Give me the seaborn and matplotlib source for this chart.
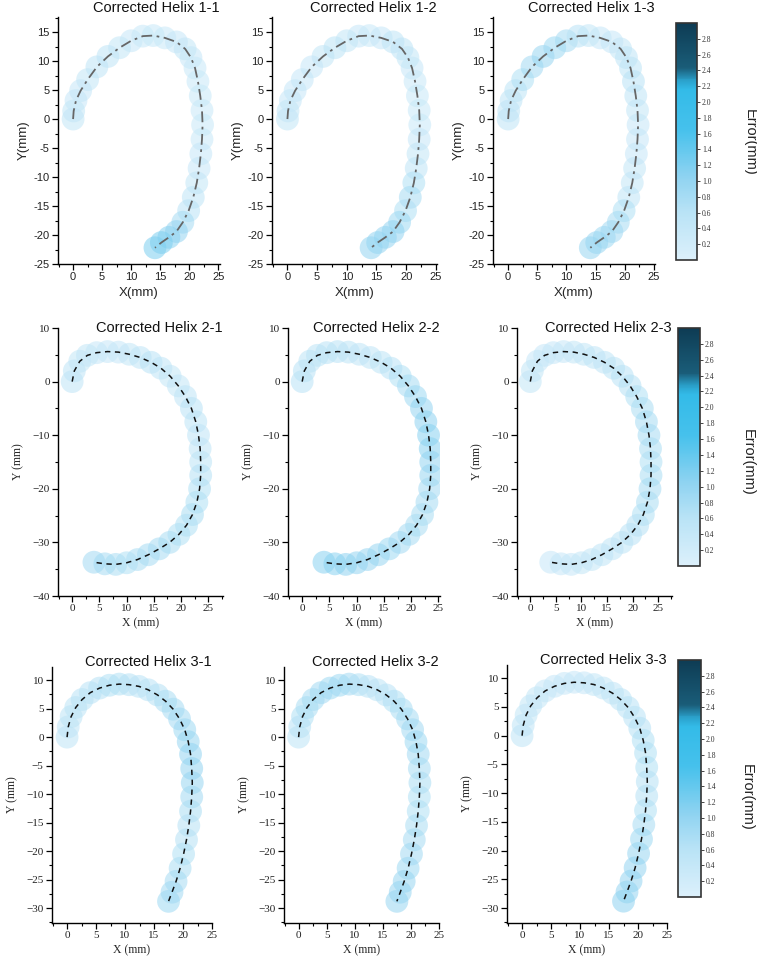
import numpy as np
import pandas as pd
import matplotlib
matplotlib.use("Agg")
import matplotlib.pyplot as plt
import seaborn as sns
from matplotlib.colors import LinearSegmentedColormap, Normalize
from matplotlib.ticker import MultipleLocator, FuncFormatter
from matplotlib.cm import ScalarMappable

sns.set_theme(style="white")
plt.rcParams['font.family'] = ['Liberation Sans', 'DejaVu Sans']

# ---------------- data ----------------
# centerlines (mm)
helix1_x = [0, 0.1, 0.5, 1.3, 2.5, 4.1, 6.0, 8.0, 10.0, 12.0, 13.8, 15.8, 17.8, 19.3, 20.3, 21.0,
            21.5, 21.9, 22.2, 22.3, 22.2, 22.0, 21.7, 21.3, 20.7, 19.9, 18.9, 17.8, 16.5, 15.2, 14.1]
helix1_y = [0, 1.4, 3.2, 4.9, 6.8, 9.0, 10.8, 12.3, 13.5, 14.3, 14.4, 14.0, 13.3, 12.1, 10.6, 8.8,
            6.5, 4.0, 1.5, -1.0, -3.5, -6.0, -8.5, -11.0, -13.5, -15.8, -17.8, -19.4, -20.4, -21.3, -22.2]

helix2_x = [0, 0.4, 1.4, 2.8, 4.5, 6.5, 8.5, 10.5, 12.5, 14.5, 16.3, 18.0, 19.5, 20.8, 21.9, 22.7,
            23.2, 23.5, 23.6, 23.6, 23.4, 22.9, 22.1, 21.0, 19.6, 17.9, 16.0, 14.0, 12.0, 10.0, 8.0, 6.0, 4.0]
helix2_y = [0, 2.0, 3.8, 4.9, 5.4, 5.6, 5.5, 5.1, 4.5, 3.6, 2.5, 1.0, -0.8, -2.8, -5.0, -7.5,
            -10.0, -12.5, -15.0, -17.5, -20.0, -22.5, -24.8, -26.8, -28.5, -30.0, -31.2, -32.3, -33.2,
            -33.8, -34.1, -34.0, -33.7]

helix3_x = [0, 0.2, 0.7, 1.5, 2.6, 4.0, 5.6, 7.3, 9.0, 10.7, 12.4, 14.0, 15.6, 17.0, 18.3, 19.4,
            20.3, 20.9, 21.3, 21.5, 21.6, 21.5, 21.3, 21.0, 20.6, 20.1, 19.5, 18.8, 18.1, 17.5]
helix3_y = [0, 1.8, 3.6, 5.2, 6.6, 7.8, 8.6, 9.1, 9.3, 9.2, 8.9, 8.3, 7.4, 6.3, 4.9, 3.2,
            1.3, -0.8, -3.0, -5.5, -8.0, -10.5, -13.0, -15.5, -18.0, -20.5, -23.0, -25.3, -27.2, -28.8]

# errors (mm) per measurement point
err_1_1 = [0.45, 0.45, 0.4, 0.4, 0.45, 0.5, 0.5, 0.45, 0.4, 0.35, 0.35, 0.35, 0.4, 0.45, 0.4, 0.35,
           0.35, 0.35, 0.35, 0.35, 0.35, 0.4, 0.4, 0.45, 0.5, 0.6, 0.8, 1.0, 1.1, 1.2, 1.2]
err_1_2 = [0.45, 0.45, 0.4, 0.4, 0.4, 0.4, 0.45, 0.55, 0.45, 0.4, 0.35, 0.4, 0.5, 0.5, 0.45, 0.4,
           0.35, 0.35, 0.35, 0.35, 0.4, 0.45, 0.5, 0.7, 0.8, 0.7, 0.9, 1.0, 1.0, 1.0, 1.0]
err_1_3 = [0.5, 0.5, 0.5, 0.55, 0.7, 0.85, 0.95, 0.9, 0.8, 0.6, 0.45, 0.4, 0.4, 0.45, 0.5, 0.55,
           0.6, 0.5, 0.45, 0.4, 0.4, 0.4, 0.45, 0.45, 0.5, 0.7, 0.8, 0.85, 0.9, 0.95, 0.95]

err_2_1 = [0.5, 0.5, 0.45, 0.45, 0.4, 0.4, 0.4, 0.45, 0.5, 0.6, 0.5, 0.45, 0.45, 0.5, 0.6, 0.55,
           0.5, 0.5, 0.55, 0.65, 0.7, 0.7, 0.75, 0.7, 0.7, 0.75, 0.8, 0.8, 0.75, 0.7, 0.75, 0.8, 0.85]
err_2_2 = [0.6, 0.6, 0.55, 0.55, 0.6, 0.6, 0.55, 0.5, 0.5, 0.55, 0.6, 0.7, 0.8, 0.9, 1.0, 1.05,
           1.1, 1.1, 1.0, 0.95, 0.85, 0.8, 0.75, 0.75, 0.8, 0.85, 0.9, 0.95, 0.95, 1.0, 1.05, 1.1, 1.1]
err_2_3 = [0.45, 0.45, 0.4, 0.4, 0.4, 0.4, 0.45, 0.45, 0.5, 0.5, 0.55, 0.6, 0.65, 0.7, 0.75, 0.8,
           0.8, 0.75, 0.7, 0.75, 0.8, 0.75, 0.7, 0.65, 0.6, 0.55, 0.5, 0.5, 0.45, 0.45, 0.4, 0.4, 0.4]

err_3_1 = [0.5, 0.5, 0.55, 0.55, 0.6, 0.6, 0.65, 0.7, 0.7, 0.65, 0.6, 0.6, 0.65, 0.75, 0.8, 0.85,
           0.9, 0.95, 1.0, 1.0, 0.95, 0.85, 0.75, 0.65, 0.65, 0.7, 0.75, 0.8, 0.85, 0.9]
err_3_2 = [0.55, 0.6, 0.7, 0.75, 0.8, 0.85, 0.9, 0.9, 0.85, 0.7, 0.6, 0.55, 0.6, 0.7, 0.75, 0.8,
           0.85, 0.9, 0.85, 0.8, 0.75, 0.7, 0.7, 0.75, 0.8, 0.85, 0.9, 0.95, 0.95, 0.95]
err_3_3 = [0.5, 0.5, 0.45, 0.45, 0.45, 0.4, 0.4, 0.4, 0.4, 0.4, 0.45, 0.45, 0.5, 0.55, 0.6, 0.6,
           0.65, 0.7, 0.7, 0.7, 0.65, 0.65, 0.7, 0.8, 0.9, 0.95, 1.0, 1.0, 1.0, 1.05]

titles = [["Corrected Helix 1-1", "Corrected Helix 1-2", "Corrected Helix 1-3"],
          ["Corrected Helix 2-1", "Corrected Helix 2-2", "Corrected Helix 2-3"],
          ["Corrected Helix 3-1", "Corrected Helix 3-2", "Corrected Helix 3-3"]]
cbar_ticks = [0.2, 0.4, 0.6, 0.8, 1.0, 1.2, 1.4, 1.6, 1.8, 2.0, 2.2, 2.4, 2.6, 2.8]
cbar_label = "Error(mm)"

centerlines = [(helix1_x, helix1_y), (helix2_x, helix2_y), (helix3_x, helix3_y)]
errors = [[err_1_1, err_1_2, err_1_3], [err_2_1, err_2_2, err_2_3], [err_3_1, err_3_2, err_3_3]]

# ---------------- style ----------------
cmap = LinearSegmentedColormap.from_list(
    "err", [(0.0, "#dcf0fb"), (0.2, "#b9e3f6"), (0.35, "#8fd3f1"), (0.55, "#46c1ec"),
            (0.72, "#33bbe8"), (0.76, "#2a9fc9"), (0.81, "#1a5d79"), (1.0, "#0e3c54")])
norm = Normalize(0, 3)

W, H = 757, 963
fig = plt.figure(figsize=(W / 100, H / 100), dpi=100)

def px_axes(l, r, t, b):
    return fig.add_axes([l / W, 1 - b / H, (r - l) / W, (b - t) / H])

# pixel boxes [left, right, top, bottom]
boxes = [
    [(58, 220, 17, 264), (272, 437, 17, 264), (493, 655, 17, 264)],
    [(58, 223, 328, 596), (288, 440, 328, 596), (517, 672, 328, 596)],
    [(52, 212, 667, 923), (284, 439, 667, 923), (507, 667, 665, 923)],
]
xlims = [[(-2.6, 25.3), (-2.6, 25.2), (-2.6, 25.2)],
         [(-2.6, 27.7), (-2.6, 25.3), (-2.6, 27.7)],
         [(-2.6, 25.0), (-2.6, 25.0), (-2.6, 25.0)]]
ylims = [(-25, 17.6), (-40, 10), (-32.6, 12.3)]
ymaj = [5, 10, 5]
title_y = [1.036, 1.0, 1.02]
cbar_boxes = [(676, 697, 23, 260), (678, 700, 328, 566), (678, 701, 660, 897)]
cbar_label_pos = [(750, 142), (748, 462), (747, 797)]

serif = ['Liberation Serif', 'DejaVu Serif']
sans = ['Liberation Sans', 'DejaVu Sans']
hyphen_fmt = FuncFormatter(lambda v, p: f"{v:g}".replace("\u2212", "-"))

for r in range(3):
    cx, cy = centerlines[r]
    for c in range(3):
        ax = px_axes(*boxes[r][c])
        df = pd.DataFrame({"x": cx, "y": cy, "err": errors[r][c]})
        sns.scatterplot(data=df, x="x", y="y", hue="err", palette=cmap, hue_norm=norm,
                        s=270, alpha=0.55, linewidth=0, legend=False, ax=ax, zorder=2)
        if r == 0:
            sns.lineplot(data=df, x="x", y="y", sort=False, estimator=None, ax=ax,
                         color="#666666", lw=1.3, zorder=3)
            ax.lines[-1].set_dashes([6, 2.5, 1.5, 2.5])
        else:
            sns.lineplot(data=df, x="x", y="y", sort=False, estimator=None, ax=ax,
                         color="#111111", lw=1.1, zorder=3)
            ax.lines[-1].set_dashes([3.5, 3])
        ax.set_xlim(*xlims[r][c])
        ax.set_ylim(*ylims[r])
        ax.xaxis.set_major_locator(MultipleLocator(5))
        ax.xaxis.set_minor_locator(MultipleLocator(2.5))
        ax.yaxis.set_major_locator(MultipleLocator(ymaj[r]))
        ax.yaxis.set_minor_locator(MultipleLocator(ymaj[r] / 2))
        if r == 0:
            ax.xaxis.set_major_formatter(hyphen_fmt)
            ax.yaxis.set_major_formatter(hyphen_fmt)
        for s in ["top", "right"]:
            ax.spines[s].set_visible(False)
        for s in ["left", "bottom"]:
            ax.spines[s].set_color("black")
            ax.spines[s].set_linewidth(1.0)
        if r == 0:
            fam, tsize, lsize = 'Liberation Sans', 8, 9.5
        else:
            fam, tsize, lsize = 'Liberation Serif', 8, 8.5
        ax.tick_params(which="major", direction="out", length=4, width=0.9, color="black",
                       bottom=True, left=True, pad=2, labelsize=tsize, labelcolor="#222222",
                       labelfontfamily=fam)
        ax.tick_params(which="minor", direction="out", length=2, width=0.8, color="black",
                       bottom=True, left=True)
        if r == 0:
            ax.set_xlabel("X(mm)", fontsize=lsize, family=sans, labelpad=3)
            ax.set_ylabel("Y(mm)", fontsize=lsize, family=sans, labelpad=3)
        else:
            ax.set_xlabel("X (mm)", fontsize=lsize, family=serif, labelpad=3)
            ax.set_ylabel("Y (mm)", fontsize=lsize, family=serif, labelpad=6)
        ax.text(1.0, title_y[r], titles[r][c], transform=ax.transAxes, ha="right", va="center",
                fontsize=10.5, family=sans, color="#111111")
        ax.set_facecolor("white")

    # colorbar for the row
    l, rr, t, b = cbar_boxes[r]
    cax = px_axes(l, rr, t, b)
    sm = ScalarMappable(norm=norm, cmap=cmap)
    cb = fig.colorbar(sm, cax=cax, ticks=cbar_ticks)
    cb.outline.set_edgecolor("#333333")
    cb.outline.set_linewidth(1.2)
    cax.tick_params(direction="out", length=2, width=0.6, pad=1.5, labelsize=5.5,
                    labelfontfamily='Liberation Serif', labelcolor="#333333")
    cax.yaxis.set_major_formatter(FuncFormatter(lambda v, p: f"{v:.1f}"))
    fig.text(cbar_label_pos[r][0] / W, 1 - cbar_label_pos[r][1] / H, cbar_label, rotation=270,
             ha="center", va="center", fontsize=10.5, family=sans, color="#222222")

fig.savefig("out.png", dpi=100, facecolor="white")
